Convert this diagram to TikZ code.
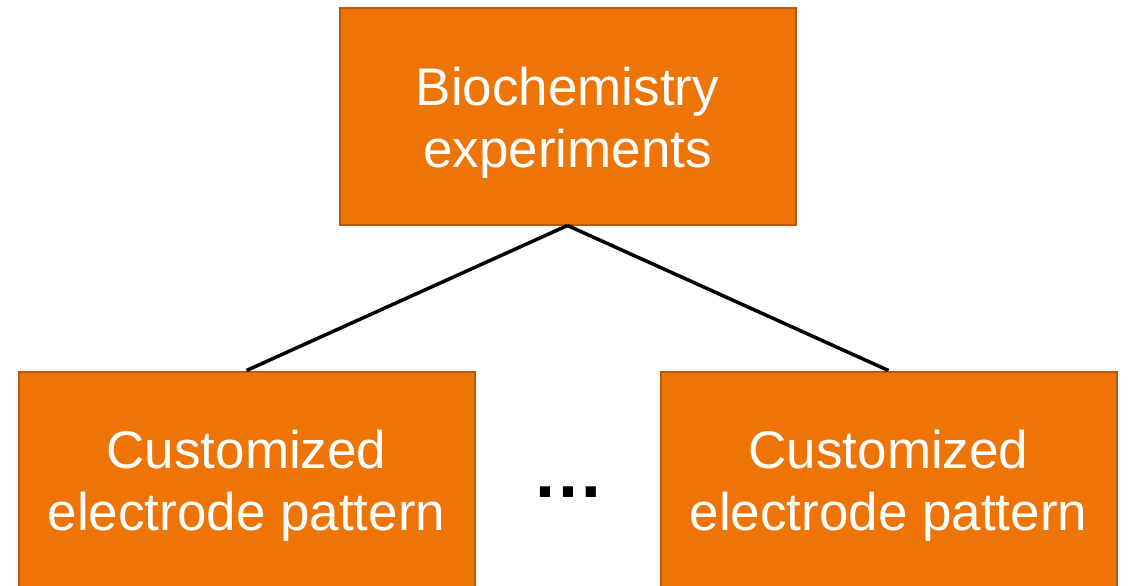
\documentclass[tikz,border=0pt]{standalone}
\usepackage{fontspec}
\setmainfont{Liberation Sans}
\definecolor{boxfill}{HTML}{EE7406}
\definecolor{boxedge}{HTML}{B85A12}
\begin{document}
\begin{tikzpicture}[x=1pt,y=-1pt,
  orangebox/.style={draw=boxedge, line width=2pt, fill=boxfill,
    minimum width=456pt, minimum height=216pt, inner sep=0pt},
  boxtext/.style={text=white, align=center, inner sep=0pt,
    font=\fontsize{53}{62}\selectfont},
  link/.style={line width=3.5pt, black}]
  \useasboundingbox (0,0) rectangle (1130,586);
  \clip (0,0) rectangle (1130,586);
  \node[orangebox] (top) at (567.5,116.5) {};
  \node[orangebox] (left) at (246.5,479.5) {};
  \node[orangebox] (right) at (888.5,479.5) {};
  \node[boxtext] (toptext) at ([yshift=-6pt]top.center) {Biochemistry\\experiments};
  \node[boxtext] (lefttext) at ([yshift=-6pt]left.center) {Customized\\electrode pattern};
  \node[boxtext] (righttext) at ([yshift=-6pt]right.center) {Customized\\electrode pattern};
  \node[font=\bfseries\fontsize{72}{72}\selectfont, inner sep=0pt] (dots) at (568,492) {…};
  \draw[link] (top.south) -- (left.north);
  \draw[link] (top.south) -- (right.north);
\end{tikzpicture}
\end{document}
